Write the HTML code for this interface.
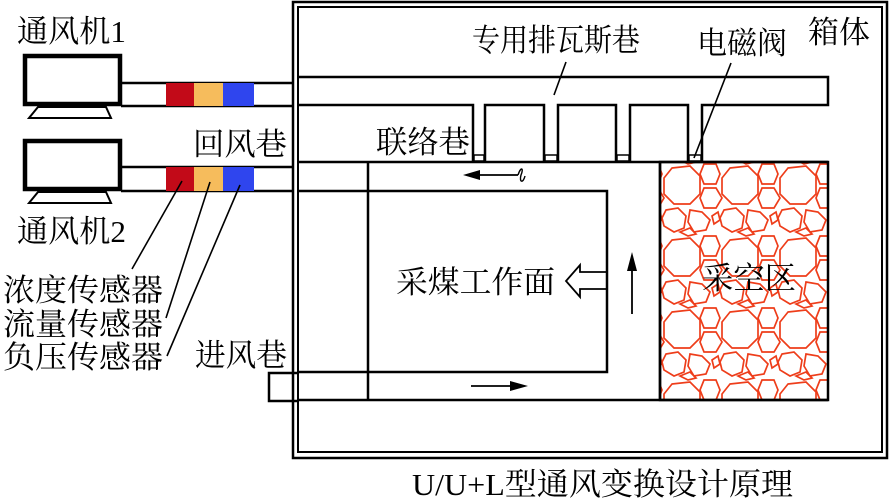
<!DOCTYPE html>
<html><head><meta charset="utf-8"><style>
html,body{margin:0;padding:0;background:#fff;}
svg{display:block;}
text{font-family:"Liberation Serif","Noto Serif CJK SC",serif;fill:#000;}
</style></head><body>
<svg width="890" height="504" viewBox="0 0 890 504" xmlns="http://www.w3.org/2000/svg">
<defs>
<pattern id="rock" x="660" y="162" width="58" height="72" patternUnits="userSpaceOnUse">
<g fill="none" stroke="#ee3d1a" stroke-width="1.7">
<polygon points="12,6 30,4 40,14 40,32 30,42 14,42 4,32 4,16"/>
<polygon points="44,2 56,2 60,12 56,22 44,22 40,12"/>
<polygon points="-14,2 -2,2 2,12 -2,22 -14,22 -18,12"/>
<polygon points="44,26 56,26 62,36 56,46 44,46 40,36"/>
<polygon points="-14,26 -2,26 4,36 -2,46 -14,46 -18,36"/>
<polygon points="6,48 18,46 26,54 24,66 14,70 4,64 2,56"/>
<polygon points="30,48 42,50 50,58 46,68 34,70 28,60"/>
<polygon points="52,54 58,50 60,58 54,62"/>
<polygon points="-6,54 0,50 2,58 -4,62"/>
<polygon points="20,-2 30,-6 36,0 28,2"/>
<polygon points="20,70 30,66 36,72 28,74"/>
<polygon points="6,-22 18,-24 26,-16 24,-6 14,-2 4,-8 2,-16"/>
<polygon points="30,-24 42,-22 50,-14 46,-4 34,-2 28,-12"/>
</g>
</pattern>
</defs>

<rect x="293" y="2" width="594" height="456" fill="none" stroke="#000" stroke-width="2.5"/>
<rect x="298" y="7" width="584" height="445" fill="none" stroke="#000" stroke-width="2"/>

<rect x="660" y="162" width="168" height="238" fill="url(#rock)" stroke="#000" stroke-width="2.5"/>

<g stroke="#000" stroke-width="2.5" fill="none">
<polyline points="298,77 828,77 828,105 702,105 702,162"/>
<polyline points="298,105 473,105 473,162"/>
<polyline points="485,162 485,105 544,105 544,162"/>
<polyline points="558,162 558,105 616,105 616,162"/>
<polyline points="630,162 630,105 688,105 688,162"/>
<line x1="298" y1="162" x2="828" y2="162"/>
<line x1="298" y1="400" x2="828" y2="400"/>
<line x1="368" y1="162" x2="368" y2="400"/>
<line x1="660" y1="162" x2="660" y2="400"/>
<polyline points="298,191 607,191 607,372 298,372"/>
<polyline points="298,373 269,373 269,401 298,401"/>
<line x1="121" y1="83" x2="293" y2="83"/>
<line x1="121" y1="106" x2="293" y2="106"/>
<line x1="121" y1="167" x2="293" y2="167"/>
<line x1="121" y1="191" x2="293" y2="191"/>
</g>
<g fill="#fff" stroke="#000" stroke-width="1.5">
<rect x="474" y="155" width="10" height="6"/>
<rect x="545" y="155" width="12" height="6"/>
<rect x="617" y="155" width="12" height="6"/>
<rect x="689" y="155" width="12" height="6"/>
</g>

<g stroke="#000" fill="#fff">
<rect x="25" y="56" width="95" height="48" stroke-width="4.5"/>
<polygon points="38,107 106,107 111,118 29,118" stroke-width="2"/>
<rect x="25" y="141" width="95" height="48" stroke-width="4.5"/>
<polygon points="38,192 106,192 111,203 29,203" stroke-width="2"/>
</g>
<rect x="166" y="83" width="28" height="23" fill="#c20a18"/>
<rect x="194" y="83" width="29" height="23" fill="#f6bc5c"/>
<rect x="223" y="83" width="31" height="23" fill="#2f45ee"/>
<rect x="166" y="167" width="28" height="24" fill="#c20a18"/>
<rect x="194" y="167" width="29" height="24" fill="#f6bc5c"/>
<rect x="223" y="167" width="31" height="24" fill="#2f45ee"/>

<g stroke="#000" stroke-width="1.6">
<line x1="182" y1="181" x2="132" y2="269"/>
<line x1="210" y1="182" x2="166" y2="318"/>
<line x1="240" y1="185" x2="167" y2="356"/>
<line x1="566" y1="62" x2="554" y2="95"/>
<line x1="731" y1="63" x2="694" y2="158"/>
</g>

<g stroke="#000" stroke-width="1.8" fill="#000">
<line x1="475" y1="175" x2="518" y2="175"/>
<polygon points="463,175 480,170 480,180" stroke="none"/>
<path d="M518,175 C521,166 524,168 521,175 C519,182 523,184 525,176" fill="none" stroke-width="1.4"/>
<line x1="471" y1="386" x2="515" y2="386"/>
<polygon points="528,386 510,381 510,391" stroke="none"/>
<line x1="632" y1="314" x2="632" y2="266"/>
<polygon points="632,252 627,271 637,271" stroke="none"/>
</g>
<g stroke="#000" stroke-width="1.8" fill="none">
<polyline points="607,272 580,272 580,265 566,281 580,297 580,289 607,289"/>
</g>

<g font-size="31">
<text x="17" y="42" textLength="109" lengthAdjust="spacingAndGlyphs">通风机1</text>
<text x="17" y="242" textLength="109" lengthAdjust="spacingAndGlyphs">通风机2</text>
<text x="193" y="155" textLength="94" lengthAdjust="spacingAndGlyphs">回风巷</text>
<text x="376" y="153" textLength="94" lengthAdjust="spacingAndGlyphs">联络巷</text>
<text x="472" y="51" textLength="168" lengthAdjust="spacingAndGlyphs">专用排瓦斯巷</text>
<text x="697" y="54" textLength="90" lengthAdjust="spacingAndGlyphs">电磁阀</text>
<text x="808" y="43" textLength="62" lengthAdjust="spacingAndGlyphs">箱体</text>
<text x="396" y="293" textLength="159" lengthAdjust="spacingAndGlyphs">采煤工作面</text>
<text x="702" y="289" textLength="94" lengthAdjust="spacingAndGlyphs">采空区</text>
<text x="3" y="301" textLength="160" lengthAdjust="spacingAndGlyphs">浓度传感器</text>
<text x="3" y="335" textLength="160" lengthAdjust="spacingAndGlyphs">流量传感器</text>
<text x="3" y="368" textLength="160" lengthAdjust="spacingAndGlyphs">负压传感器</text>
<text x="195" y="366" textLength="92" lengthAdjust="spacingAndGlyphs">进风巷</text>
<text x="412" y="495" textLength="381" lengthAdjust="spacingAndGlyphs">U/U+L型通风变换设计原理</text>
</g>
</svg>
</body></html>
